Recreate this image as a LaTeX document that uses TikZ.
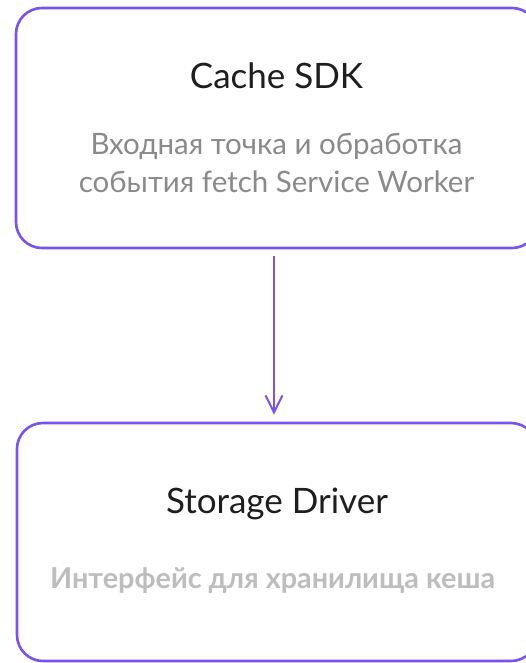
\documentclass[tikz,border=0pt]{standalone}
\usepackage{fontspec}
\setmainfont{Lato}
\usetikzlibrary{arrows.meta}
\definecolor{vio}{HTML}{7B52EE}
\definecolor{subgray}{HTML}{8A8A8A}
\definecolor{lightgray}{HTML}{BDBDBD}
\definecolor{titleblack}{HTML}{1E1E1E}
\tikzset{
  box/.style={draw=vio, line width=2.6pt, rounded corners=26pt, fill=white, inner sep=0pt},
  title/.style={font=\fontsize{35}{40}\selectfont, text=titleblack, anchor=base, inner sep=0pt},
  sub/.style={font=\fontsize{29.5}{37}\selectfont, text=subgray, anchor=base, inner sep=0pt},
  sublight/.style={font=\fontsize{28.8}{37}\selectfont\bfseries, text=lightgray, anchor=base, inner sep=0pt},
  arrow/.style={draw=vio, line width=2pt, -{Straight Barb[length=17pt,width=17pt,line width=2pt]}}
}
\begin{document}
\begin{tikzpicture}[x=1pt,y=-1pt]
\useasboundingbox (0,0) rectangle (526,663);
\node[box, minimum width=522pt, minimum height=240pt] (top) at (277,128) {};
\node[box, minimum width=520pt, minimum height=238pt] (bot) at (277,542) {};
\node[title] (t1) at (276.5,89) {Cache SDK};
\node[sub] (s1) at (276.5,155) {Входная точка и обработка};
\node[sub] (s2) at (276.5,193) {события fetch Service Worker};
\node[title] (t2) at (277,513) {Storage Driver};
\node[sublight] (s3) at (272.5,588) {Интерфейс для хранилища кеша};
\coordinate (ax) at (274,0);
\draw[arrow] ([yshift=-7pt]top.south -| ax) -- ([yshift=7pt]bot.north -| ax);
\end{tikzpicture}
\end{document}
